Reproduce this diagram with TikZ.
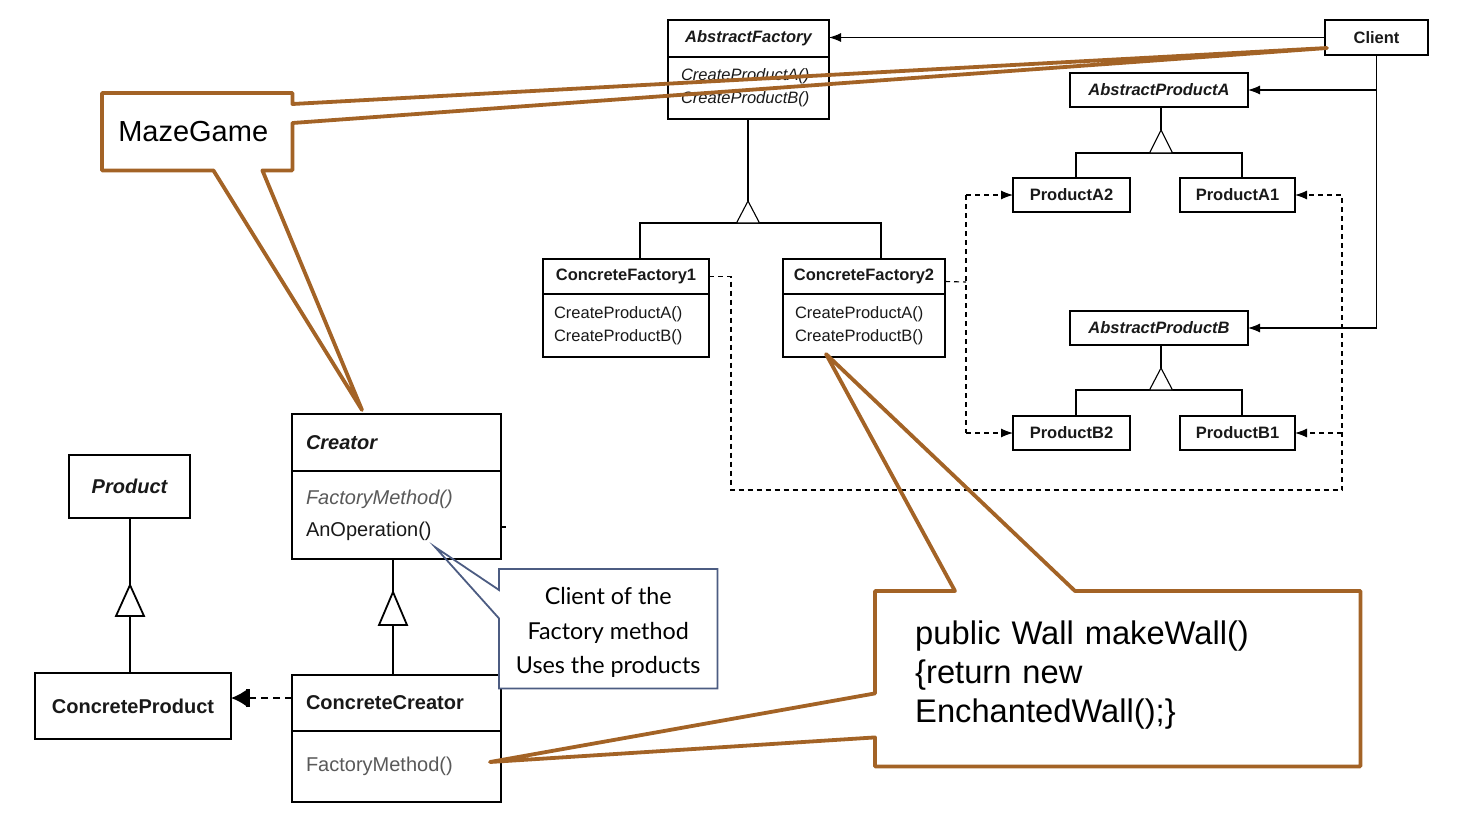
\documentclass[tikz,border=0pt]{standalone}
\usepackage{fontspec}
\setmainfont{Liberation Sans}
\newfontfamily\calloutfont{Lato}
\usetikzlibrary{arrows.meta,calc}
\definecolor{brn}{RGB}{163,99,38}
\definecolor{cblue}{RGB}{76,92,130}
\tikzset{
 cls/.style={draw, line width=1.1pt, inner sep=0pt, outer sep=0pt, anchor=north west, text=black!90},
 sn/.style={cls, font=\fontsize{16.5}{23}\selectfont},
 sb/.style={cls, font=\fontsize{16.5}{23}\selectfont\bfseries},
 sbi/.style={cls, font=\fontsize{16.5}{23}\selectfont\bfseries\itshape},
 si/.style={cls, font=\fontsize{16.5}{23}\selectfont\itshape},
 bcls/.style={cls, line width=1.8pt},
 bn/.style={bcls, font=\fontsize{20}{32}\selectfont},
 bb/.style={bcls, font=\fontsize{20}{32}\selectfont\bfseries},
 bbi/.style={bcls, font=\fontsize{20}{32}\selectfont\bfseries\itshape},
 umlln/.style={line width=1.1pt},
 bigln/.style={line width=1.8pt},
 umlarr/.style={-{Latex[length=12pt,width=9pt]}},
 bigarr/.style={-{Bar[width=18pt,line width=4pt] Latex[length=15pt,width=16pt]}},
 umldep/.style={line width=1.1pt, dash pattern=on 5pt off 4pt},
 bigdep/.style={line width=1.8pt, dash pattern=on 7pt off 5pt},
 umltri/.style={fill=white, line width=1.1pt, line join=miter},
 bigtri/.style={fill=white, line width=1.8pt, line join=miter},
 brnline/.style={draw=brn, line width=3.8pt, line join=round},
}
\begin{document}
\begin{tikzpicture}[x=1pt,y=-1pt]
\useasboundingbox (0,0) rectangle (1463,839);

% ---------- Abstract Factory ----------
\node[sbi, minimum width=161pt, minimum height=37pt] (aft) at (668,20) {AbstractFactory};
\node[si, minimum width=161pt, minimum height=62pt, align=left, inner xsep=13pt, text width=135pt] (afm) at (668,57) {CreateProductA()\\CreateProductB()};
\node[sb, minimum width=103pt, minimum height=35pt] (client) at (1325,20) {Client};
\node[sbi, minimum width=178pt, minimum height=34pt] (apa) at (1070,73) {AbstractProductA};
\node[sb, minimum width=117pt, minimum height=34pt] (pa2) at (1013,178) {ProductA2};
\node[sb, minimum width=115pt, minimum height=34pt] (pa1) at (1180,178) {ProductA1};
\node[sbi, minimum width=178pt, minimum height=34pt] (apb) at (1070,311) {AbstractProductB};
\node[sb, minimum width=117pt, minimum height=34pt] (pb2) at (1013,416) {ProductB2};
\node[sb, minimum width=115pt, minimum height=34pt] (pb1) at (1180,416) {ProductB1};
\node[sb, minimum width=166pt, minimum height=35pt] (cf1t) at (543,259) {ConcreteFactory1};
\node[sn, minimum width=166pt, minimum height=63pt, align=left, inner xsep=11pt, text width=144pt] (cf1m) at (543,294) {CreateProductA()\\CreateProductB()};
\node[sb, minimum width=162pt, minimum height=35pt] (cf2t) at (783,259) {ConcreteFactory2};
\node[sn, minimum width=162pt, minimum height=63pt, align=left, inner xsep=12pt, text width=138pt] (cf2m) at (783,294) {CreateProductA()\\CreateProductB()};

% inheritance AbstractFactory
\coordinate (afA) at (748,201);
\coordinate (afB) at (748,223);
\draw[umlln] (afA |- afm.south) -- (afA);
\draw[umlln] ([xshift=14pt]cf1t.north) |- (afB) -| ([xshift=17pt]cf2t.north);
\draw[umltri] (afA) -- ++(-11.5,22) -- ++(23,0) -- cycle;

% client associations
\draw[umlln, umlarr] (client.west) -- (client.west -| aft.east);
\draw[umlln, umlarr] (client.south) |- (apb.east);
\draw[umlln, umlarr] (client.south |- apa.east) -- (apa.east);

% inheritance A products
\coordinate (paA) at (1161,130);
\coordinate (paB) at (1161,153);
\draw[umlln] (paA |- apa.south) -- (paA);
\draw[umlln] ([xshift=4.5pt]pa2.north) |- (paB) -| ([xshift=4.5pt]pa1.north);
\draw[umltri] (paA) -- ++(-11.5,23) -- ++(23,0) -- cycle;

% inheritance B products
\coordinate (pbA) at (1161,368);
\coordinate (pbB) at (1161,390);
\draw[umlln] (pbA |- apb.south) -- (pbA);
\draw[umlln] ([xshift=4.5pt]pb2.north) |- (pbB) -| ([xshift=4.5pt]pb1.north);
\draw[umltri] (pbA) -- ++(-11.5,22) -- ++(23,0) -- cycle;

% dependencies ConcreteFactory2
\coordinate (d2) at (966,282);
\draw[umldep] ([yshift=-5pt]cf2t.east) -- (d2);
\draw[umldep] (d2 |- pa2.west) -- (d2 |- pb2.west);
\draw[umldep, umlarr] (d2 |- pa2.west) -- (pa2.west);
\draw[umldep, umlarr] (d2 |- pb2.west) -- (pb2.west);

% dependencies ConcreteFactory1
\coordinate (d1) at (731,490);
\coordinate (d3) at (1342,490);
\draw[umldep, umlarr] (cf1t.east) -| (d1) -- (d3) |- (pa1.east);
\draw[umldep, umlarr] (d3 |- pb1.east) -- (pb1.east);

% ---------- Factory Method ----------
\node[bbi, minimum width=121pt, minimum height=63pt] (prod) at (69,455) {Product};
\node[bb, minimum width=196pt, minimum height=66pt] (cprod) at (35,673) {ConcreteProduct};
\node[bbi, minimum width=209pt, minimum height=57pt, align=left, inner xsep=14pt, text width=181pt] (cret) at (292,414) {Creator};
\node[bn, minimum width=209pt, minimum height=88pt, align=left, inner xsep=14pt, text width=181pt] (crem) at (292,471) {{\itshape\color{black!65}FactoryMethod()}\\AnOperation()};
\node[bb, minimum width=209pt, minimum height=56pt, align=left, inner xsep=14pt, text width=181pt] (cct) at (292,675) {ConcreteCreator};
\node[bn, minimum width=209pt, minimum height=71pt, align=left, inner xsep=14pt, text width=181pt, text=black!65] (ccm) at (292,731) {FactoryMethod()};
\draw[umlln] ([yshift=-12pt]crem.east) -- ++(5,0);

\coordinate (pA) at (130,585);
\coordinate (pB) at (130,616);
\draw[bigln] (pA |- prod.south) -- (pA);
\draw[bigln] (pB) -- (pB |- cprod.north);
\draw[bigtri] (pA) -- ++(-14,31) -- ++(28,0) -- cycle;

\coordinate (cA) at (393,592);
\coordinate (cB) at (393,625);
\draw[bigln] (cA |- crem.south) -- (cA);
\draw[bigln] (cB) -- (cB |- cct.north);
\draw[bigtri] (cA) -- ++(-14,33) -- ++(28,0) -- cycle;

\draw[bigdep, bigarr] ([yshift=5pt]cct.west) -- ([yshift=5pt]cct.west -| cprod.east);

% ---------- callouts ----------
\node[anchor=north west, minimum width=190pt, minimum height=77pt, inner sep=0pt, font=\fontsize{29}{34}\selectfont] (mg) at (98,93) {MazeGame};
\coordinate (mgt1) at (1327,48);
\coordinate (mgt2) at (362,410);
\draw[brnline] ([xshift=4pt]mg.north west) -- ([xshift=4pt]mg.north east) -- ([xshift=4pt,yshift=-11pt]mg.north east) -- (mgt1) -- ([xshift=4pt,yshift=-30pt]mg.north east) -- ([xshift=4pt]mg.south east) -- ([xshift=-26pt]mg.south east) -- (mgt2) -- ([xshift=-75pt]mg.south east) -- ([xshift=4pt]mg.south west) -- cycle;

\node[anchor=north west, minimum width=485pt, minimum height=175pt, inner xsep=40pt, inner ysep=0pt, text width=405pt, align=left, font=\fontsize{32.7}{39}\selectfont] (code) at (875,591) {public Wall makeWall()\\\{return new\\EnchantedWall();\}\rule[-15pt]{0pt}{0pt}};
\coordinate (ct1) at (826,354);
\coordinate (ct2) at (490,762);
\draw[brnline] (code.north west) -- ([xshift=80pt]code.north west) -- (ct1) -- ([xshift=200pt]code.north west) -- (code.north east) -- (code.south east) -- (code.south west) -- ([yshift=29pt]code.south west) -- (ct2) -- ([yshift=73pt]code.south west) -- cycle;

\node[anchor=north west, fill=white, minimum width=218pt, minimum height=119pt, inner sep=0pt, align=center, font=\calloutfont\fontsize{23.3}{34.5}\selectfont] (note) at (499,569) {\rule{0pt}{25pt}Client of the\\Factory method\\Uses the products};
\coordinate (nt) at (435,547);
\draw[cblue, line width=1.8pt, line join=miter] (note.north west) -- (note.north east) -- (note.south east) -- (note.south west) -- ([yshift=70pt]note.south west) -- (nt) -- ([yshift=-21pt]note.north west) -- cycle;
\end{tikzpicture}
\end{document}
